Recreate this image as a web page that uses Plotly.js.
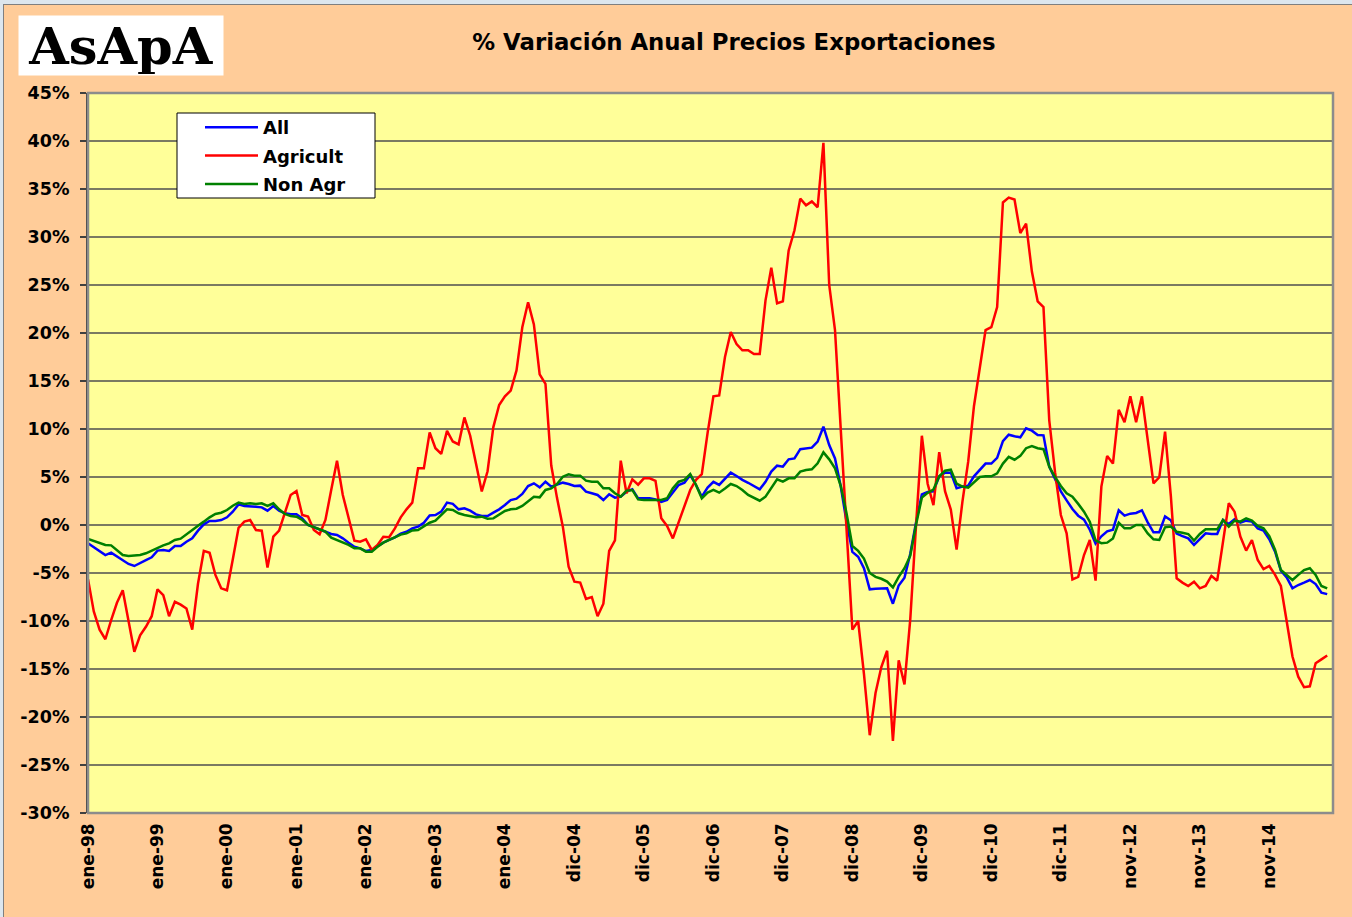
<!DOCTYPE html>
<html><head><meta charset="utf-8">
<script src="https://cdn.plot.ly/plotly-3.0.1.min.js"></script>
<style>html,body{margin:0;padding:0;background:#FFCC99;} #chart{width:1352px;height:917px;}</style>
</head><body><div id="chart"></div>
<script>
const tickLabels = ["ene-98","ene-99","ene-00","ene-01","ene-02","ene-03","ene-04","dic-04","dic-05","dic-06","dic-07","dic-08","dic-09","dic-10","dic-11","nov-12","nov-13","nov-14"];
const tickStep = 12;

const allSeries = [
-1.91,-2.33,-2.78,-3.13,-2.88,-3.3,-3.65,-4.06,-4.27,-3.92,
-3.65,-3.37,-2.67,-2.6,-2.71,-2.19,-2.19,-1.74,-1.39,-0.59,
0.07,0.42,0.42,0.52,0.8,1.39,2.15,1.98,1.98,1.91,
1.84,1.49,1.98,1.49,1.22,1.11,1.11,0.69,0.0,-0.24,
-0.52,-0.69,-0.94,-1.04,-1.39,-1.84,-2.26,-2.43,-2.71,-2.6,
-2.19,-1.84,-1.56,-1.28,-0.9,-0.7,-0.35,-0.17,0.24,1.0,
1.04,1.39,2.33,2.2,1.63,1.74,1.49,1.11,0.94,0.94,
1.28,1.63,2.08,2.6,2.74,3.23,4.06,4.34,3.92,4.51,
3.99,4.17,4.41,4.27,4.06,4.1,3.47,3.3,3.13,2.6,
3.2,2.85,2.95,3.47,3.72,2.78,2.78,2.78,2.67,2.4,
2.6,3.37,4.17,4.41,5.2,4.17,2.95,3.89,4.5,4.17,
4.8,5.45,5.1,4.7,4.4,4.06,3.72,4.5,5.56,6.18,
6.08,6.84,6.94,7.9,8.0,8.06,8.68,10.24,8.33,6.94,
4.0,0.3,-2.8,-3.3,-4.5,-6.7,-6.65,-6.6,-6.6,-8.2,
-6.3,-5.5,-3.0,0.3,3.2,3.45,3.5,5.07,5.45,5.45,
3.84,4.0,4.1,5.07,5.76,6.4,6.4,7.0,8.74,9.4,
9.24,9.13,10.07,9.83,9.38,9.34,6.08,4.7,3.5,2.57,
1.67,0.97,0.56,-0.49,-1.94,-1.18,-0.66,-0.49,1.53,0.97,
1.18,1.25,1.53,0.28,-0.76,-0.76,0.9,0.49,-0.9,-1.15,
-1.39,-2.08,-1.49,-0.87,-0.94,-0.94,0.52,0.1,0.59,0.24,
0.45,0.35,-0.35,-0.59,-1.49,-2.78,-4.76,-5.45,-6.6,-6.25,
-6.0,-5.73,-6.15,-7.05,-7.2
];

const agricult = [
-5.66,-9.0,-10.9,-11.9,-9.9,-8.1,-6.8,-10.2,-13.2,-11.5,
-10.6,-9.5,-6.7,-7.3,-9.5,-8.0,-8.3,-8.7,-10.9,-6.1,
-2.7,-2.9,-5.2,-6.6,-6.8,-3.6,-0.3,0.35,0.52,-0.52,
-0.59,-4.44,-1.22,-0.59,1.39,3.13,3.54,1.04,0.87,-0.52,
-0.97,0.52,3.65,6.7,3.13,0.87,-1.63,-1.74,-1.49,-2.6,
-2.08,-1.22,-1.28,-0.35,0.8,1.63,2.33,5.9,5.9,9.65,
8.0,7.4,9.8,8.7,8.4,11.2,9.3,6.4,3.5,5.6,
10.2,12.5,13.4,14.0,16.1,20.6,23.2,20.9,15.7,14.7,
6.2,2.8,-0.17,-4.34,-5.9,-6.0,-7.7,-7.5,-9.5,-8.2,
-2.7,-1.6,6.7,3.3,4.76,4.2,4.86,4.86,4.6,0.7,
-0.1,-1.4,0.35,2.1,3.65,4.7,5.3,9.6,13.4,13.5,
17.5,20.1,18.85,18.2,18.2,17.8,17.8,23.4,26.8,23.1,
23.3,28.6,30.7,34.0,33.3,33.7,33.1,39.8,25.0,20.3,
10.0,-0.8,-10.9,-10.0,-15.5,-21.9,-17.5,-14.8,-13.1,-22.5,
-14.1,-16.6,-9.8,0.0,9.3,4.3,2.06,7.58,3.53,1.6,
-2.57,2.4,6.6,12.4,16.3,20.3,20.6,22.7,33.6,34.1,
33.9,30.4,31.4,26.4,23.3,22.7,10.9,5.5,1.04,-0.87,
-5.66,-5.4,-3.13,-1.56,-5.8,4.0,7.2,6.4,12.0,10.7,
13.4,10.7,13.4,8.85,4.34,4.97,9.72,3.0,-5.55,-6.0,
-6.35,-5.9,-6.6,-6.35,-5.3,-5.8,-1.8,2.26,1.39,-1.2,
-2.67,-1.56,-3.65,-4.6,-4.27,-5.2,-6.35,-10.2,-13.7,-15.8,
-16.9,-16.8,-14.4,-14.0,-13.6
];

const nonAgr = [
-1.46,-1.67,-1.91,-2.08,-2.12,-2.67,-3.13,-3.23,-3.19,-3.13,
-2.95,-2.67,-2.33,-2.12,-1.91,-1.56,-1.42,-0.94,-0.52,-0.07,
0.35,0.8,1.15,1.28,1.56,2.01,2.33,2.19,2.26,2.19,
2.26,1.98,2.26,1.63,1.15,0.94,0.87,0.52,0.0,-0.24,
-0.52,-0.69,-1.32,-1.56,-1.84,-2.08,-2.43,-2.43,-2.78,-2.78,
-2.26,-1.84,-1.56,-1.28,-1.0,-0.87,-0.56,-0.52,-0.1,0.24,
0.45,1.04,1.63,1.56,1.22,1.04,0.94,0.8,0.87,0.66,
0.69,1.04,1.46,1.63,1.7,1.98,2.43,2.95,2.88,3.65,
3.82,4.27,5.03,5.28,5.14,5.14,4.62,4.51,4.51,3.82,
3.82,3.3,2.95,3.58,3.65,2.67,2.6,2.6,2.67,2.6,
2.78,3.82,4.51,4.69,5.31,4.17,2.78,3.37,3.65,3.37,
3.8,4.27,4.06,3.65,3.13,2.85,2.53,2.95,3.92,4.76,
4.51,4.86,4.86,5.56,5.73,5.8,6.42,7.57,6.84,5.9,
4.06,1.2,-2.19,-2.7,-3.5,-5.0,-5.4,-5.6,-5.9,-6.5,
-5.4,-4.5,-3.2,0.06,2.85,3.35,3.7,5.07,5.65,5.76,
4.3,4.0,3.9,4.5,5.0,5.07,5.07,5.38,6.4,7.1,
6.8,7.2,8.0,8.23,8.0,7.9,6.08,5.0,4.07,3.3,
2.95,2.2,1.39,0.35,-1.6,-1.9,-1.84,-1.4,0.24,-0.35,
-0.35,0,0,-0.87,-1.49,-1.56,-0.24,-0.17,-0.7,-0.8,
-0.94,-1.63,-0.94,-0.45,-0.45,-0.45,0.52,-0.17,0.45,0.35,
0.7,0.45,-0.1,-0.35,-1.15,-2.6,-4.69,-5.2,-5.73,-5.2,
-4.69,-4.5,-5.2,-6.35,-6.6
];

const yTickVals = [45,40,35,30,25,20,15,10,5,0,-5,-10,-15,-20,-25,-30];
const yTickText = yTickVals.map(v => v + '%');

const idx = agricult.map((_, i) => i);
const tickVals = tickLabels.map((_, k) => k * tickStep);

// plot-area pixel frame (layout geometry, not data)
const W = 1352, H = 917, PL = 88, PR = 1333, PT = 93, PB = 813;
const px = p => (p - PL) / (PR - PL);
const py = p => (PB - p) / (PB - PT);
const xRange = [0, agricult.length];

const font = {family: 'DejaVu Sans', weight: 'bold', color: '#000'};

const traces = [
  {x: idx, y: allSeries, name: 'All', type: 'scatter', mode: 'lines', line: {color: '#0000FF', width: 2.5}, legendgroup: 'g1'},
  {x: idx, y: agricult, name: 'Agricult', type: 'scatter', mode: 'lines', line: {color: '#FF0000', width: 2.5}, legendgroup: 'g2'},
  {x: idx, y: nonAgr, name: 'Non Agr', type: 'scatter', mode: 'lines', line: {color: '#008000', width: 2.5}, legendgroup: 'g3'}
];

const layout = {
  width: W, height: H,
  margin: {l: PL, r: W - PR, t: PT, b: H - PB, pad: 0},
  paper_bgcolor: '#FFCC99',
  plot_bgcolor: '#FFFF99',
  showlegend: true,
  title: {text: '% Variación Anual Precios Exportaciones', x: 734 / W, xanchor: 'center', y: 1 - 42 / H, yanchor: 'middle',
          font: Object.assign({}, font, {size: 22.8})},
  xaxis: {
    range: xRange, tickvals: tickVals, ticktext: tickLabels, tickangle: -90,
    ticks: '', showgrid: false, zeroline: false, showline: false,
    tickfont: Object.assign({}, font, {size: 17}), ticklabelstandoff: 6
  },
  xaxis2: {
    overlaying: 'x', anchor: 'free', position: 0.4, side: 'bottom', range: xRange,
    tickvals: tickVals, showticklabels: false, ticks: 'outside', ticklen: 6, tickwidth: 1.5, tickcolor: '#333',
    showgrid: false, zeroline: false, showline: false
  },
  yaxis: {
    range: [-30, 45], tickvals: yTickVals, ticktext: yTickText,
    showgrid: true, gridcolor: '#7a7a62', gridwidth: 1.6, zeroline: false,
    showline: true, linecolor: '#404040', linewidth: 2, ticks: 'outside', ticklen: 6, tickcolor: '#404040', tickwidth: 1.5,
    tickfont: Object.assign({}, font, {size: 17.5}), ticklabelstandoff: 7
  },
  legend: {
    x: px(200), y: py(109), xanchor: 'left', yanchor: 'top',
    bgcolor: 'rgba(0,0,0,0)', borderwidth: 0,
    font: Object.assign({}, font, {size: 18}), traceorder: 'grouped', tracegroupgap: 2, itemwidth: 53
  },
  shapes: [
    {type: 'rect', xref: 'paper', yref: 'paper', x0: 0, x1: 1, y0: 0, y1: 1, line: {color: '#8c8c8c', width: 2.5}, layer: 'above'},
    {type: 'rect', xref: 'paper', yref: 'paper', x0: px(177), x1: px(375), y0: py(198), y1: py(113), fillcolor: '#FFFFFF', line: {color: '#000000', width: 1}, layer: 'above'},
    {type: 'rect', xref: 'paper', yref: 'paper', x0: px(0), x1: px(W), y0: py(0), y1: py(4), fillcolor: '#DCE6EE', line: {width: 0}},
    {type: 'rect', xref: 'paper', yref: 'paper', x0: px(0), x1: px(3), y0: py(0), y1: py(H), fillcolor: '#DCE6EE', line: {width: 0}},
    {type: 'line', xref: 'paper', yref: 'paper', x0: px(3), x1: px(W), y0: py(4.5), y1: py(4.5), line: {color: '#7f7f7f', width: 1}},
    {type: 'line', xref: 'paper', yref: 'paper', x0: px(3.5), x1: px(3.5), y0: py(4), y1: py(H), line: {color: '#7f7f7f', width: 1}}
  ],
  annotations: [
    {xref: 'paper', yref: 'paper', x: px(121), y: py(45.5), xanchor: 'center', yanchor: 'middle',
     width: 202, height: 57, bgcolor: '#FFFFFF', showarrow: false, text: 'AsApA',
     font: {family: 'DejaVu Serif', size: 51, color: '#000', weight: 'bold'}}
  ]
};

Plotly.newPlot('chart', traces, layout, {displayModeBar: false, staticPlot: true});
</script></body></html>
